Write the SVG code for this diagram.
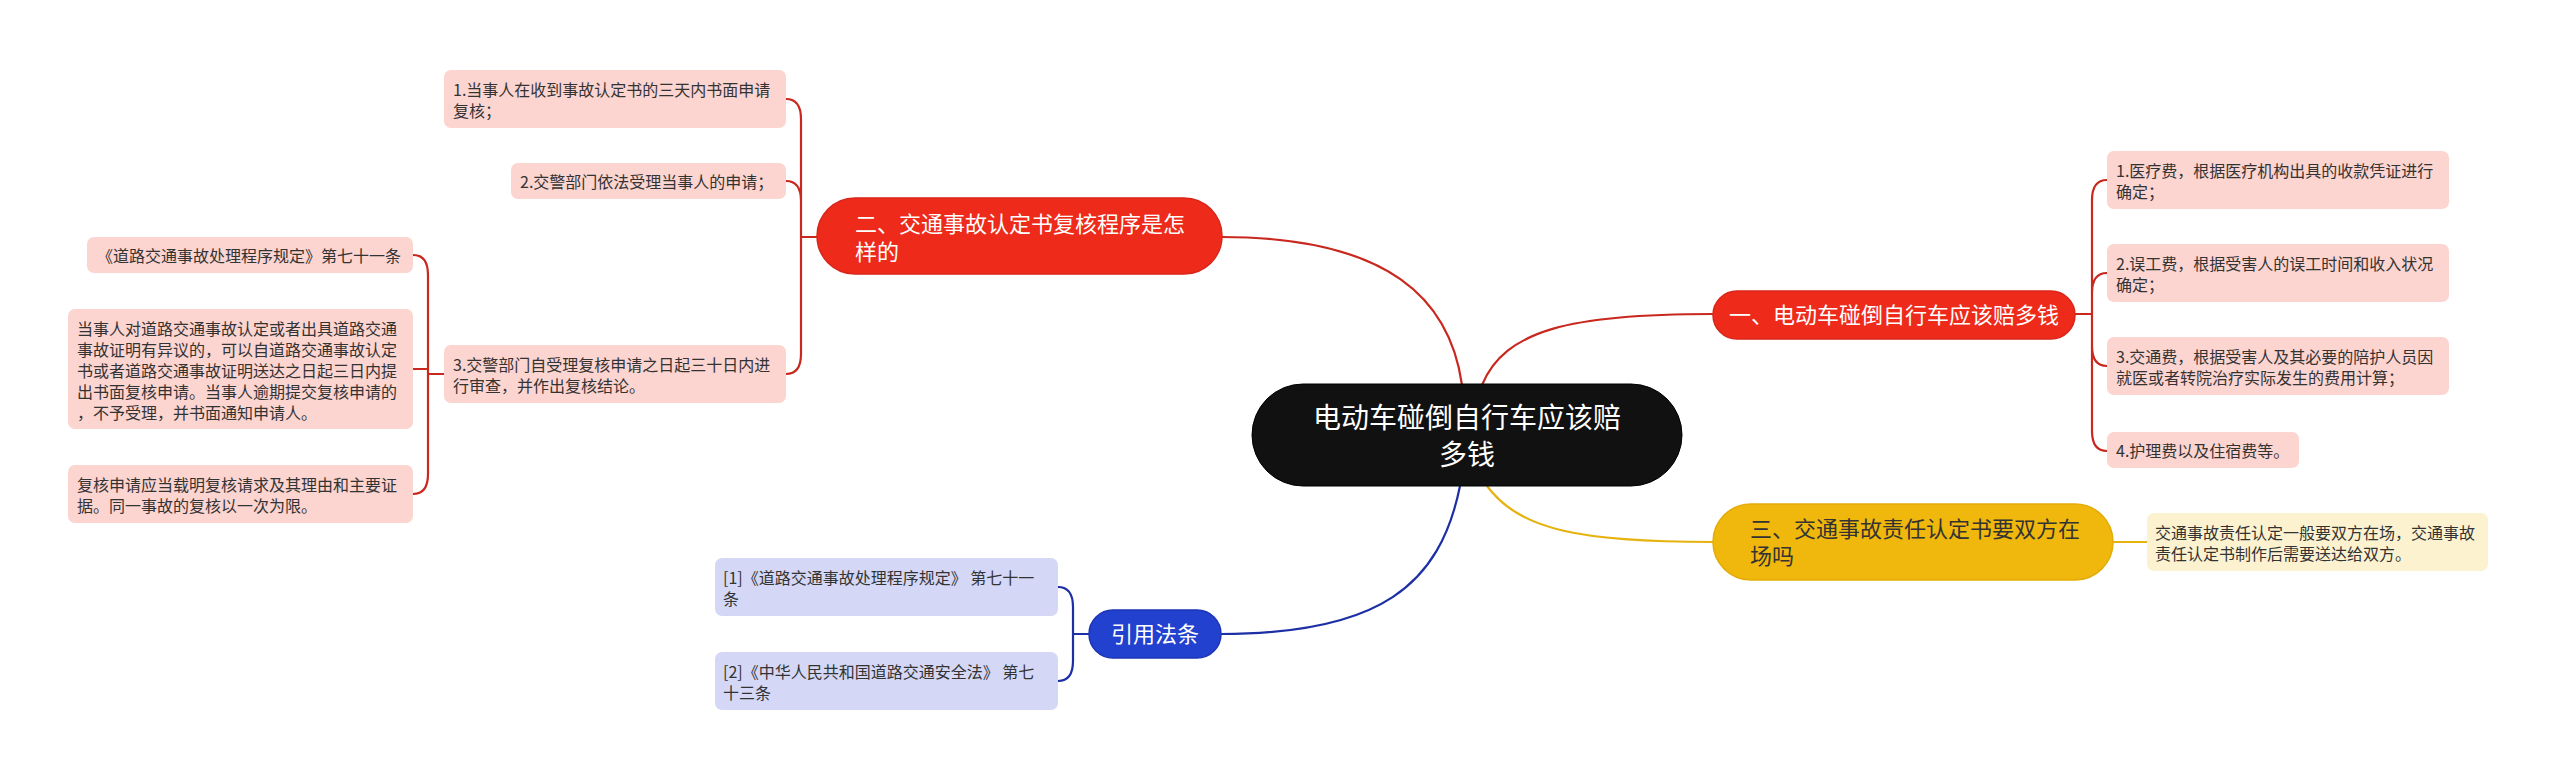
<svg xmlns="http://www.w3.org/2000/svg" width="2560" height="780" viewBox="0 0 2560 780">
<style>
text{font-family:"Noto Sans CJK SC","Noto Sans",sans-serif}
.leaf{font-size:16px;fill:#333}
.main{font-size:22px;fill:#fff}
.boxR{fill:#FCD4D0}
.boxB{fill:#D4D8F6}
.boxY{fill:#FDF2D0}
.cR{fill:none;stroke:#C8281E;stroke-width:2.2}
.cB{fill:none;stroke:#1D2FA5;stroke-width:2.2}
.cY{fill:none;stroke:#E6B20E;stroke-width:2.2}
</style>
<rect width="2560" height="780" fill="#fff"/>
<g id="connectors">
<path class="cR" d="M1462 385 C1450 300 1390 237 1221 237"/>
<path class="cR" d="M1482 385 C1505 330 1570 314 1713 314"/>
<path class="cY" d="M1487 486 C1520 530 1580 542 1713 542"/>
<path class="cB" d="M1460 486 C1440 585 1380 634 1221 634"/>
<path class="cR" d="M817 237 L801 237 M801 237 L801 119 Q801 99 786 99 M801 237 L801 201 Q801 181 786 181 M801 237 L801 354 Q801 374 786 374"/>
<path class="cR" d="M444 374 L428 374 M428 374 L428 275 Q428 255 413 255 M428 374 L428 369 L413 369 M428 374 L428 474 Q428 494 413 494"/>
<path class="cR" d="M2075 314 L2092 314 M2092 314 L2092 200 Q2092 180 2107 180 M2092 314 L2092 293 Q2092 273 2107 273 M2092 314 L2092 346 Q2092 366 2107 366 M2092 314 L2092 431 Q2092 451 2107 451"/>
<path class="cY" d="M2113 542 L2147 542"/>
<path class="cB" d="M1089 634 L1073 634 M1073 634 L1073 607 Q1073 587 1058 587 M1073 634 L1073 661 Q1073 681 1058 681"/>
</g>
<g id="center">
<rect x="1252" y="384" width="430" height="102" rx="51" fill="#111" stroke="#000" stroke-width="1"/>
<text x="1467" y="428" font-size="28" fill="#fff" text-anchor="middle">电动车碰倒自行车应该赔</text>
<text x="1467" y="465" font-size="28" fill="#fff" text-anchor="middle">多钱</text>
</g>
<g id="topic2">
<rect x="817" y="198" width="405" height="76" rx="38" fill="#EE2A1A" stroke="#D9261A" stroke-width="1.5"/>
<text class="main" x="855" y="232">二、交通事故认定书复核程序是怎</text>
<text class="main" x="855" y="260">样的</text>
</g>
<g id="t2c1">
<rect class="boxR" x="444" y="70" width="342" height="58" rx="7"/>
<text class="leaf" x="453" y="96">1.当事人在收到事故认定书的三天内书面申请</text>
<text class="leaf" x="453" y="117">复核；</text>
</g>
<g id="t2c2">
<rect class="boxR" x="511" y="163" width="275" height="36" rx="7"/>
<text class="leaf" x="520" y="188">2.交警部门依法受理当事人的申请；</text>
</g>
<g id="t2c3">
<rect class="boxR" x="444" y="345" width="342" height="58" rx="7"/>
<text class="leaf" x="453" y="371">3.交警部门自受理复核申请之日起三十日内进</text>
<text class="leaf" x="453" y="392">行审查，并作出复核结论。</text>
</g>
<g id="t2c3a">
<rect class="boxR" x="87" y="237" width="326" height="36" rx="7"/>
<text class="leaf" x="97" y="262">《道路交通事故处理程序规定》第七十一条</text>
</g>
<g id="t2c3b">
<rect class="boxR" x="68" y="309" width="345" height="120" rx="7"/>
<text class="leaf" x="77" y="335">当事人对道路交通事故认定或者出具道路交通</text>
<text class="leaf" x="77" y="356">事故证明有异议的，可以自道路交通事故认定</text>
<text class="leaf" x="77" y="377">书或者道路交通事故证明送达之日起三日内提</text>
<text class="leaf" x="77" y="398">出书面复核申请。当事人逾期提交复核申请的</text>
<text class="leaf" x="77" y="419">，不予受理，并书面通知申请人。</text>
</g>
<g id="t2c3c">
<rect class="boxR" x="68" y="465" width="345" height="58" rx="7"/>
<text class="leaf" x="77" y="491">复核申请应当载明复核请求及其理由和主要证</text>
<text class="leaf" x="77" y="512">据。同一事故的复核以一次为限。</text>
</g>
<g id="topic1">
<rect x="1713" y="291" width="362" height="48" rx="24" fill="#EE2A1A" stroke="#D9261A" stroke-width="1.5"/>
<text class="main" x="1894" y="323" text-anchor="middle">一、电动车碰倒自行车应该赔多钱</text>
</g>
<g id="t1c1">
<rect class="boxR" x="2107" y="151" width="342" height="58" rx="7"/>
<text class="leaf" x="2116" y="177">1.医疗费，根据医疗机构出具的收款凭证进行</text>
<text class="leaf" x="2116" y="198">确定；</text>
</g>
<g id="t1c2">
<rect class="boxR" x="2107" y="244" width="342" height="58" rx="7"/>
<text class="leaf" x="2116" y="270">2.误工费，根据受害人的误工时间和收入状况</text>
<text class="leaf" x="2116" y="291">确定；</text>
</g>
<g id="t1c3">
<rect class="boxR" x="2107" y="337" width="342" height="58" rx="7"/>
<text class="leaf" x="2116" y="363">3.交通费，根据受害人及其必要的陪护人员因</text>
<text class="leaf" x="2116" y="384">就医或者转院治疗实际发生的费用计算；</text>
</g>
<g id="t1c4">
<rect class="boxR" x="2107" y="432" width="192" height="36" rx="7"/>
<text class="leaf" x="2116" y="457">4.护理费以及住宿费等。</text>
</g>
<g id="topic3">
<rect x="1713" y="504" width="400" height="76" rx="38" fill="#F0B70C" stroke="#E3AC08" stroke-width="1.5"/>
<text class="main" x="1750" y="537" style="fill:#333">三、交通事故责任认定书要双方在</text>
<text class="main" x="1750" y="564" style="fill:#333">场吗</text>
</g>
<g id="t3c1">
<rect class="boxY" x="2147" y="513" width="341" height="58" rx="7"/>
<text class="leaf" x="2155" y="539">交通事故责任认定一般要双方在场，交通事故</text>
<text class="leaf" x="2155" y="560">责任认定书制作后需要送达给双方。</text>
</g>
<g id="topic4">
<rect x="1089" y="610" width="132" height="48" rx="24" fill="#2341CF" stroke="#1D35B5" stroke-width="1.5"/>
<text class="main" x="1155" y="642" text-anchor="middle">引用法条</text>
</g>
<g id="t4c1">
<rect class="boxB" x="715" y="558" width="343" height="58" rx="7"/>
<text class="leaf" x="723" y="584">[1]《道路交通事故处理程序规定》 第七十一</text>
<text class="leaf" x="723" y="605">条</text>
</g>
<g id="t4c2">
<rect class="boxB" x="715" y="652" width="343" height="58" rx="7"/>
<text class="leaf" x="723" y="678">[2]《中华人民共和国道路交通安全法》 第七</text>
<text class="leaf" x="723" y="699">十三条</text>
</g>
</svg>
